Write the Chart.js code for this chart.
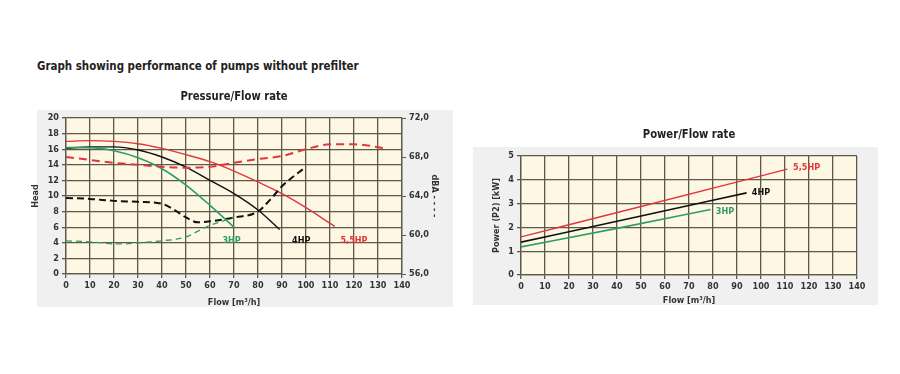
<!DOCTYPE html>
<html>
<head>
<meta charset="utf-8">
<script src="https://cdn.jsdelivr.net/npm/chart.js@4.4.1/dist/chart.umd.min.js"></script>
<style>
    body { margin: 0; background: #fff; width: 900px; height: 374px; position: relative; overflow: hidden; }
    .panel { position: absolute; background: #f0f0f0; }
    .wrap { position: absolute; }
    #heading { position: absolute; left: 37px; top: 58px; font: bold 13px 'Liberation Sans Narrow', 'DejaVu Sans Condensed', sans-serif; color: #222; transform: scaleX(0.88); transform-origin: left center; white-space: nowrap; }
</style>
</head>
<body>
<div id="heading">Graph showing performance of pumps without prefilter</div>
<div class="panel" style="left:37px; top:110px; width:416px; height:197px;"></div>
<div class="panel" style="left:473px; top:147px; width:405px; height:158px;"></div>
<div class="wrap" style="left:30px; top:85px; width:425px; height:227px;"><canvas id="pressure"></canvas></div>
<div class="wrap" style="left:470px; top:120px; width:410px; height:190px;"><canvas id="power"></canvas></div>
<script>
const FONT = "'Liberation Sans Narrow', 'DejaVu Sans Condensed', sans-serif";
const RED = '#e0363c';
const BLACK = '#111111';
const GREEN = '#2c9e63';
const GRID = '#5e584a';

// pressure / flow, head in m
const flow3 = [0, 10, 20, 30, 40, 50, 60, 70];
const head3 = [16.2, 16.2, 15.8, 14.9, 13.5, 11.4, 8.8, 6.0];
const flow4 = [0, 10, 20, 30, 40, 50, 60, 70, 80, 89];
const head4 = [16.1, 16.3, 16.3, 15.9, 15.0, 13.7, 12.0, 10.3, 8.2, 5.7];
const flow55 = [0, 10, 20, 30, 40, 50, 60, 70, 80, 90, 100, 110, 112];
const head55 = [17.0, 17.1, 17.0, 16.7, 16.1, 15.3, 14.4, 13.2, 11.8, 10.3, 8.5, 6.5, 6.1];

// noise (dBA), dashed
const dbaFlow3 = [0, 10, 20, 25, 30, 40, 50, 55, 60, 65, 70];
const dba3 = [59.4, 59.3, 59.1, 59.1, 59.2, 59.4, 59.8, 60.4, 61.0, 61.4, 61.8];
const dbaFlow4 = [0, 10, 20, 30, 40, 45, 50, 55, 60, 70, 80, 85, 90, 100];
const dba4 = [63.8, 63.7, 63.5, 63.4, 63.2, 62.6, 61.8, 61.3, 61.4, 61.8, 62.4, 63.6, 65.0, 67.0];
const dbaFlow55 = [0, 10, 20, 30, 40, 50, 60, 70, 80, 90, 100, 110, 120, 133];
const dba55 = [68.0, 67.7, 67.4, 67.2, 67.0, 66.9, 67.0, 67.4, 67.8, 68.1, 68.8, 69.3, 69.3, 68.9];

// power / flow, kW
const pFlow3 = [0, 40, 79];
const power3 = [1.18, 1.96, 2.75];
const pFlow4 = [0, 50, 94];
const power4 = [1.38, 2.48, 3.45];
const pFlow55 = [0, 50, 111];
const power55 = [1.6, 2.88, 4.45];

// curve labels: [text, flow, value, colour]
const pressureLabels = [['3HP', 69, 4.3, GREEN], ['4HP', 98, 4.3, BLACK], ['5,5HP', 120, 4.3, RED]];
const powerLabels = [['5,5HP', 119, 4.5, RED], ['4HP', 100, 3.45, BLACK], ['3HP', 85, 2.65, GREEN]];

function pts(xs, ys) {
    return xs.map((x, i) => ({ x: x, y: ys[i] }));
}

function line(data, color, width, dash, axis) {
    return {
        data: data,
        borderColor: color,
        borderWidth: width,
        borderDash: dash || [],
        pointRadius: 0,
        cubicInterpolationMode: 'monotone',
        yAxisID: axis || 'y'
    };
}

// draws the HP names next to the curves
function labelPlugin(list) {
    return {
        id: 'curveLabels',
        afterDatasetsDraw(chart) {
            const ctx = chart.ctx;
            const xs = chart.scales.x, ys = chart.scales.y;
            ctx.save();
            ctx.font = 'bold 9px ' + FONT;
            ctx.textAlign = 'center';
            ctx.textBaseline = 'middle';
            list.forEach(([t, x, y, c]) => {
                ctx.fillStyle = c;
                ctx.fillText(t, xs.getPixelForValue(x), ys.getPixelForValue(y));
            });
            ctx.restore();
        }
    };
}

// title centred over the plot area, not the canvas
function titlePlugin(text) {
    return {
        id: 'areaTitle',
        afterDraw(chart) {
            const a = chart.chartArea;
            const ctx = chart.ctx;
            ctx.save();
            ctx.translate((a.left + a.right) / 2, a.top - 21);
            ctx.scale(0.86, 1);
            ctx.font = 'bold 13px ' + FONT;
            ctx.fillStyle = '#222';
            ctx.textAlign = 'center';
            ctx.textBaseline = 'middle';
            ctx.fillText(text, 0, 0);
            ctx.restore();
        }
    };
}

const plotBg = {
    id: 'plotBg',
    beforeDraw(chart) {
        const a = chart.chartArea;
        chart.ctx.save();
        chart.ctx.fillStyle = '#fdf7e4';
        chart.ctx.fillRect(a.left, a.top, a.right - a.left, a.bottom - a.top);
        chart.ctx.restore();
    }
};

const tickFont = { family: FONT, size: 9, weight: 'bold' };
const titleFont = { family: FONT, size: 9, weight: 'bold' };
const gridOpts = { color: GRID, lineWidth: 1.3, tickLength: 4, drawTicks: true };

new Chart(document.getElementById('pressure'), {
    type: 'line',
    data: {
        datasets: [
            line(pts(dbaFlow3, dba3), GREEN, 1.3, [6, 4], 'y2'),
            line(pts(dbaFlow4, dba4), BLACK, 2, [7, 4], 'y2'),
            line(pts(dbaFlow55, dba55), RED, 2, [8, 5], 'y2'),
            line(pts(flow3, head3), GREEN, 1.6),
            line(pts(flow4, head4), BLACK, 1.4),
            line(pts(flow55, head55), RED, 1.4)
        ]
    },
    options: {
        responsive: true,
        maintainAspectRatio: false,
        animation: false,
        layout: { padding: { top: 33, right: 13 } },
        plugins: {
            legend: { display: false },
            tooltip: { enabled: false },
            title: { display: false }
        },
        scales: {
            x: {
                type: 'linear', min: 0, max: 140,
                ticks: { stepSize: 10, font: tickFont, color: '#333', padding: 2 },
                grid: gridOpts,
                border: { color: GRID, width: 1.3 },
                title: { display: true, text: 'Flow [m³/h]', font: titleFont, color: '#333', padding: { top: 6 } },
                afterFit(s) { s.height = 38; }
            },
            y: {
                min: 0, max: 20,
                ticks: { stepSize: 2, font: tickFont, color: '#333', padding: 3 },
                grid: gridOpts,
                border: { color: GRID, width: 1.3 },
                title: { display: true, text: 'Head', font: titleFont, color: '#333', padding: 0 },
                afterFit(s) { s.width = 36; }
            },
            y2: {
                position: 'right',
                min: 56, max: 72,
                ticks: {
                    stepSize: 4, font: tickFont, color: '#333', padding: 3,
                    callback: v => v.toFixed(1).replace('.', ',')
                },
                grid: { drawOnChartArea: false, color: GRID, tickLength: 4 },
                border: { color: GRID, width: 1.3 },
                title: { display: true, text: 'dBA - - - -', font: titleFont, color: '#333', padding: { top: 2 } },
                afterFit(s) { s.width = 40; }
            }
        }
    },
    plugins: [plotBg, labelPlugin(pressureLabels), titlePlugin('Pressure/Flow rate')]
});

new Chart(document.getElementById('power'), {
    type: 'line',
    data: {
        datasets: [
            line(pts(pFlow55, power55), RED, 1.4),
            line(pts(pFlow4, power4), BLACK, 1.6),
            line(pts(pFlow3, power3), GREEN, 1.6)
        ]
    },
    options: {
        responsive: true,
        maintainAspectRatio: false,
        animation: false,
        layout: { padding: { top: 36, left: 21, right: 23 } },
        plugins: {
            legend: { display: false },
            tooltip: { enabled: false },
            title: { display: false }
        },
        scales: {
            x: {
                type: 'linear', min: 0, max: 140,
                ticks: { stepSize: 10, font: tickFont, color: '#333', padding: 2 },
                grid: gridOpts,
                border: { color: GRID, width: 1.3 },
                title: { display: true, text: 'Flow [m³/h]', font: titleFont, color: '#333', padding: { top: 4 } },
                afterFit(s) { s.height = 35; }
            },
            y: {
                min: 0, max: 5,
                ticks: { stepSize: 1, font: tickFont, color: '#333', padding: 3 },
                grid: gridOpts,
                border: { color: GRID, width: 1.3 },
                title: { display: true, text: 'Power (P2) [kW]', font: titleFont, color: '#333', padding: 0 },
                afterFit(s) { s.width = 30; }
            }
        }
    },
    plugins: [plotBg, labelPlugin(powerLabels), titlePlugin('Power/Flow rate')]
});
</script>
</body>
</html>
